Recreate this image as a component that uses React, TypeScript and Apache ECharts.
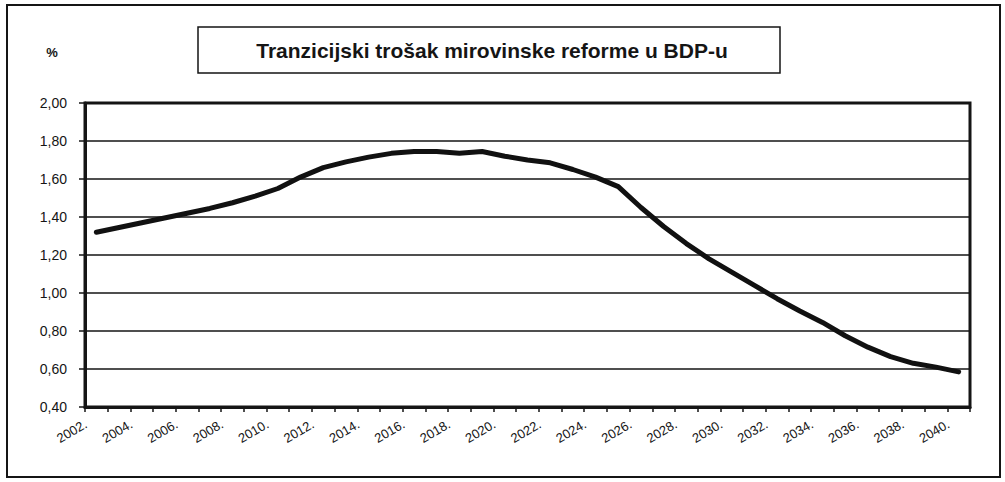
import React, { useEffect, useRef } from "react";
import * as echarts from "echarts";

// Years on the category axis
const years: string[] = [];
for (let y = 2002; y <= 2040; y++) years.push(String(y));

// Transition cost of the pension reform, % of GDP
const costShare: number[] = [
  1.32, 1.345, 1.37, 1.395, 1.42, 1.445, 1.475, 1.51, 1.55, 1.61,
  1.66, 1.69, 1.715, 1.735, 1.745, 1.745, 1.735, 1.745, 1.72, 1.7,
  1.685, 1.65, 1.61, 1.56, 1.45, 1.35, 1.26, 1.18, 1.11, 1.04,
  0.97, 0.905, 0.845, 0.775, 0.715, 0.665, 0.63, 0.61, 0.585,
];

const titleText = "Tranzicijski trošak mirovinske reforme u BDP-u";
const unitText = "%";

const FONT = "'Liberation Sans', Arial, sans-serif";
const INK = "#151515";

export default function App() {
  const ref = useRef<HTMLDivElement>(null);

  useEffect(() => {
    if (!ref.current) return;
    const chart = echarts.init(ref.current, null, { renderer: "svg" });
    chart.setOption({
      animation: false,
      backgroundColor: "#ffffff",
      grid: {
        left: 85,
        right: 35,
        top: 103,
        bottom: 75,
        show: true,
        borderColor: INK,
        borderWidth: 3,
      },
      xAxis: {
        type: "category",
        data: years,
        boundaryGap: true,
        axisLine: { lineStyle: { color: INK, width: 3 } },
        axisTick: {
          show: true,
          interval: 0,
          length: 5,
          lineStyle: { color: INK, width: 1.5 },
        },
        axisLabel: {
          interval: 1,
          rotate: 30,
          margin: 10,
          padding: [0, 12, 0, 0],
          fontFamily: FONT,
          fontSize: 13,
          color: INK,
          formatter: (v: string) => v + ".",
        },
        splitLine: { show: false },
      },
      yAxis: {
        type: "value",
        min: 0.4,
        max: 2.0,
        interval: 0.2,
        axisLine: { show: true, lineStyle: { color: INK, width: 3 } },
        axisTick: { show: true, length: 6, lineStyle: { color: INK, width: 1.5 } },
        axisLabel: {
          margin: 18,
          fontFamily: FONT,
          fontSize: 14,
          color: INK,
          formatter: (v: number) => v.toFixed(2).replace(".", ","),
        },
        splitLine: { show: true, lineStyle: { color: INK, width: 1.5 } },
      },
      series: [
        {
          type: "line",
          data: costShare,
          symbol: "none",
          smooth: false,
          lineStyle: { color: "#111111", width: 5, join: "round", cap: "round" },
        },
      ],
      graphic: [
        {
          type: "rect",
          shape: { x: 7, y: 5, width: 993, height: 472 },
          style: { fill: "none", stroke: INK, lineWidth: 2 },
          silent: true,
        },
        {
          type: "rect",
          shape: { x: 198, y: 27, width: 582, height: 46 },
          style: { fill: "none", stroke: INK, lineWidth: 1.5 },
          silent: true,
        },
        {
          type: "text",
          x: 492,
          y: 50,
          style: {
            text: titleText,
            font: `bold 21px ${FONT}`,
            fill: INK,
            textAlign: "center",
            textVerticalAlign: "middle",
          },
          silent: true,
        },
        {
          type: "text",
          x: 52,
          y: 52,
          style: {
            text: unitText,
            font: `bold 13px ${FONT}`,
            fill: INK,
            textAlign: "center",
            textVerticalAlign: "middle",
          },
          silent: true,
        },
      ],
    });
    return () => chart.dispose();
  }, []);

  return (
    <div
      ref={ref}
      style={{ position: "fixed", left: 0, top: 0, width: 1005, height: 482, background: "#fff" }}
    />
  );
}
